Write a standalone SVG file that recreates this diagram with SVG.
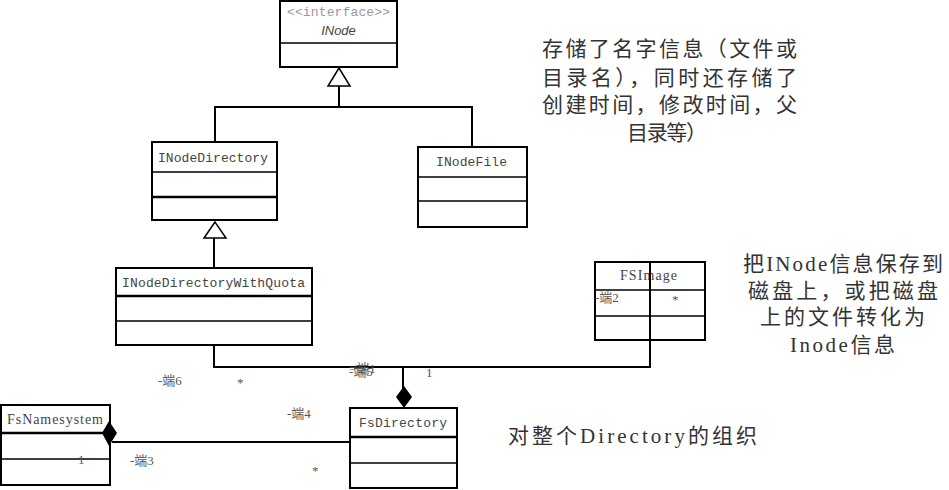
<svg xmlns="http://www.w3.org/2000/svg" width="949" height="490" viewBox="0 0 949 490">
<style>
.box{fill:#fff;stroke:#000;stroke-width:2}
.div{stroke:#000;stroke-width:1.5}
.divb{stroke:#000;stroke-width:2.5}
.cls{font-family:"Liberation Mono",monospace;font-size:13px;fill:#444}
.ser{font-family:"Liberation Serif",serif;font-size:14px;fill:#444}
.lbl{font-family:"Liberation Serif","Noto Sans CJK SC",serif;font-size:13px;fill:#555}
.note{font-family:"Liberation Serif","Noto Sans CJK SC",serif;font-size:21px;fill:#333}
.con{fill:none;stroke:#000;stroke-width:2}
</style>
<rect width="949" height="490" fill="#fff"/>
<g id="INode">
<rect class="box" x="280" y="1" width="117" height="66"/>
<line class="div" x1="280" y1="43" x2="397" y2="43"/>
<text x="338.5" y="16" text-anchor="middle" font-family="Liberation Mono,monospace" font-size="13" fill="#999" textLength="103">&lt;&lt;interface&gt;&gt;</text>
<text x="338.5" y="35" text-anchor="middle" font-family="Liberation Sans,sans-serif" font-size="13" font-style="italic" fill="#444">INode</text>
</g>
<g id="INodeDirectory">
<rect class="box" x="152" y="142" width="125" height="78"/>
<line class="div" x1="152" y1="172" x2="277" y2="172"/>
<line class="divb" x1="152" y1="197" x2="277" y2="197"/>
<text class="cls" x="158" y="162" textLength="110">INodeDirectory</text>
</g>
<g id="INodeFile">
<rect class="box" x="418" y="147" width="109" height="80"/>
<line class="div" x1="418" y1="177" x2="527" y2="177"/>
<line class="div" x1="418" y1="201" x2="527" y2="201"/>
<text class="cls" x="436" y="166" textLength="71">INodeFile</text>
</g>
<g id="INodeDirectoryWithQuota">
<rect class="box" x="116" y="268" width="196" height="77"/>
<line class="divb" x1="116" y1="296" x2="312" y2="296"/>
<line class="div" x1="116" y1="321" x2="312" y2="321"/>
<text class="cls" x="122" y="287" textLength="183">INodeDirectoryWithQuota</text>
</g>
<g id="FSImage">
<rect class="box" x="595" y="262" width="110" height="78"/>
<line class="div" x1="595" y1="290" x2="705" y2="290"/>
<line class="div" x1="595" y1="316" x2="705" y2="316"/>
<text class="ser" x="620" y="280" textLength="57">FSImage</text>
<text class="lbl" x="595" y="302">-端2</text>
<text class="lbl" x="672" y="304">*</text>
</g>
<g id="FsDirectory">
<rect class="box" x="350" y="408" width="107" height="80"/>
<line class="divb" x1="350" y1="437" x2="457" y2="437"/>
<line class="div" x1="350" y1="463" x2="457" y2="463"/>
<text class="cls" x="359" y="427" textLength="88">FsDirectory</text>
</g>
<g id="FsNamesystem">
<rect class="box" x="1" y="405" width="109" height="80"/>
<line class="divb" x1="1" y1="433" x2="110" y2="433"/>
<line class="div" x1="1" y1="459" x2="110" y2="459"/>
<text class="ser" x="7" y="424" textLength="96">FsNamesystem</text>
</g>
<g id="connectors">
<polyline class="con" points="339,86 339,107 215,107 215,142"/>
<polyline class="con" points="339,107 472,107 472,147"/>
<polygon points="339,68 328,86 350,86" fill="#fff" stroke="#000" stroke-width="1.5"/>
<line class="con" x1="214" y1="238" x2="214" y2="268"/>
<polygon points="215,222 204,238 226,238" fill="#fff" stroke="#000" stroke-width="1.5"/>
<polyline class="con" points="214,345 214,367 650,367 650,262"/>
<line class="con" x1="403" y1="367" x2="403" y2="390"/>
<polygon points="404,386 412,397 404,408 396,397" fill="#000"/>
<line class="con" x1="112" y1="442" x2="350" y2="442"/>
<polygon points="102,433 109,421 117,433 109,446" fill="#000"/>
</g>
<g id="labels">
<text class="lbl" x="158" y="385">-端6</text>
<text class="lbl" x="237" y="387">*</text>
<text class="lbl" x="349" y="376">-端5</text>
<text class="lbl" x="349" y="373">=端1</text>
<text class="lbl" x="426" y="377">1</text>
<text class="lbl" x="287" y="418">-端4</text>
<text class="lbl" x="78" y="464">1</text>
<text class="lbl" x="130" y="465">-端3</text>
<text class="lbl" x="312" y="475">*</text>
</g>
<g id="notes">
<text class="note" x="542" y="56" textLength="255">存储了名字信息（文件或</text>
<text class="note" x="542" y="85" textLength="255">目录名），同时还存储了</text>
<text class="note" x="542" y="112" textLength="255">创建时间，修改时间，父</text>
<text class="note" x="627" y="140" textLength="80">目录等）</text>
<text class="note" x="743" y="271" textLength="200">把INode信息保存到</text>
<text class="note" x="748" y="298" textLength="190">磁盘上，或把磁盘</text>
<text class="note" x="760" y="324" textLength="165">上的文件转化为</text>
<text class="note" x="790" y="352" textLength="105">Inode信息</text>
<text class="note" x="508" y="443" textLength="249">对整个Directory的组织</text>
</g>
</svg>
